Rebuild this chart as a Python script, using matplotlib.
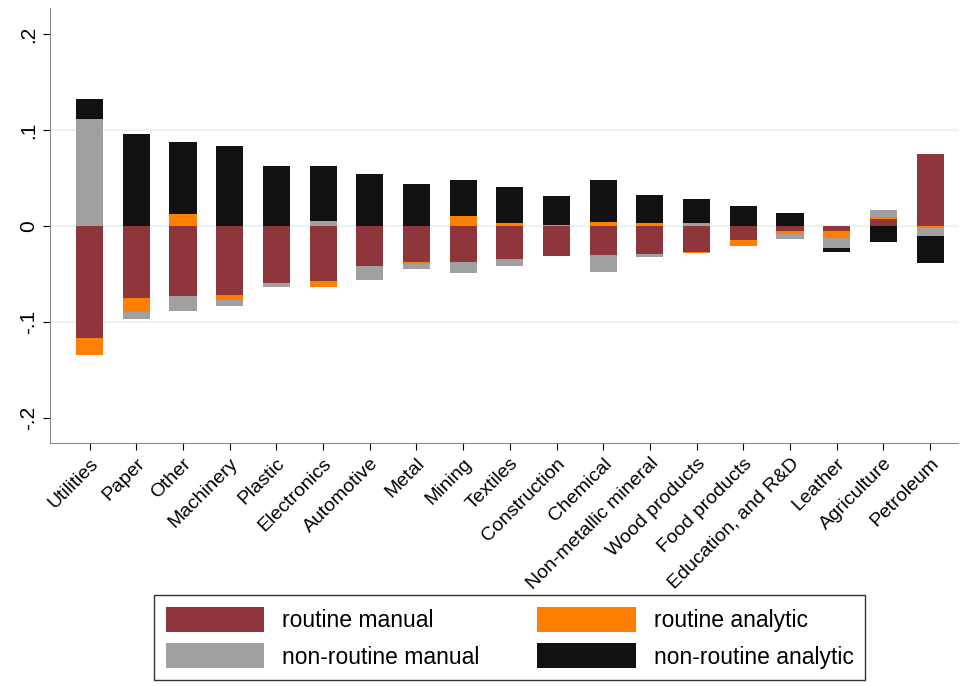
import matplotlib.pyplot as plt
import numpy as np

plt.rcParams['font.family'] = ['Liberation Sans', 'DejaVu Sans']

industries = ["Utilities", "Paper", "Other", "Machinery", "Plastic", "Electronics",
              "Automotive", "Metal", "Mining", "Textiles", "Construction", "Chemical",
              "Non-metallic mineral", "Wood products", "Food products",
              "Education, and R&D", "Leather", "Agriculture", "Petroleum"]

routine_manual = [-0.1164, -0.0746, -0.0725, -0.0714, -0.0589, -0.0568, -0.0411, -0.0369,
                  -0.0369, -0.0338, -0.0314, -0.0303, -0.0293, -0.0272, -0.0146, -0.0052,
                  -0.0052, 0.0073, 0.0753]
routine_analytic = [-0.0174, -0.0146, 0.0129, -0.0056, 0.0, -0.0062, 0.0, -0.0028,
                    0.0101, 0.0028, 0.0, 0.0040, 0.0030, -0.0010, -0.0063, -0.0028,
                    -0.0073, 0.0021, -0.0020]
nonroutine_manual = [0.1115, -0.0073, -0.0155, -0.0060, -0.0041, 0.0049, -0.0146, -0.0046,
                     -0.0115, -0.0073, 0.0017, -0.0177, -0.0031, 0.0030, 0.0, -0.0056,
                     -0.0105, 0.0073, -0.0085]
nonroutine_analytic = [0.0205, 0.0958, 0.0746, 0.0833, 0.0624, 0.0575, 0.0544, 0.0436,
                       0.0376, 0.0376, 0.0293, 0.0440, 0.0294, 0.0250, 0.0209, 0.0136,
                       -0.0042, -0.0167, -0.0282]

series = [("routine manual", routine_manual, "#8f353c"),
          ("routine analytic", routine_analytic, "#ff7f00"),
          ("non-routine manual", nonroutine_manual, "#a0a0a0"),
          ("non-routine analytic", nonroutine_analytic, "#111111")]

fig = plt.figure(figsize=(9.6, 6.86), dpi=100)
ax = fig.add_axes([0.052, 0.354, 0.946, 0.634])
x = np.arange(len(industries))
pos = np.zeros(len(industries))
neg = np.zeros(len(industries))
handles = {}
for name, vals, col in series:
    v = np.array(vals)
    base = np.where(v >= 0, pos, neg)
    handles[name] = ax.bar(x, v, 0.58, bottom=base, color=col, label=name, zorder=3)
    pos = pos + np.clip(v, 0, None)
    neg = neg + np.clip(v, None, 0)

ax.set_xlim(-0.85, len(industries) - 0.4)
ax.set_ylim(-0.226, 0.227)
ax.set_yticks([-0.2, -0.1, 0, 0.1, 0.2])
ax.set_yticklabels(["-.2", "-.1", "0", ".1", ".2"], rotation=90, va="center", fontsize=15)
for g in [-0.1, 0, 0.1]:
    ax.axhline(g, color="#eaf2f3", lw=1.5, zorder=1)
ax.set_xticks(x)
ax.set_xticklabels(industries, rotation=45, ha="right", rotation_mode="anchor", fontsize=14)
ax.spines["top"].set_visible(False)
ax.spines["right"].set_visible(False)
ax.spines["left"].set_color("#888888")
ax.spines["bottom"].set_color("#888888")
ax.tick_params(length=5)

order = ["routine manual", "non-routine manual", "routine analytic", "non-routine analytic"]
leg = fig.legend([handles[n] for n in order], order, loc="lower center",
                 bbox_to_anchor=(0.531, -0.008), ncol=2, fontsize=16.5, frameon=True,
                 fancybox=False, edgecolor="black", handlelength=4.3, handleheight=1.3,
                 columnspacing=2.5, borderpad=0.5)
leg.get_frame().set_linewidth(1)
fig.savefig("out.png", dpi=100)
